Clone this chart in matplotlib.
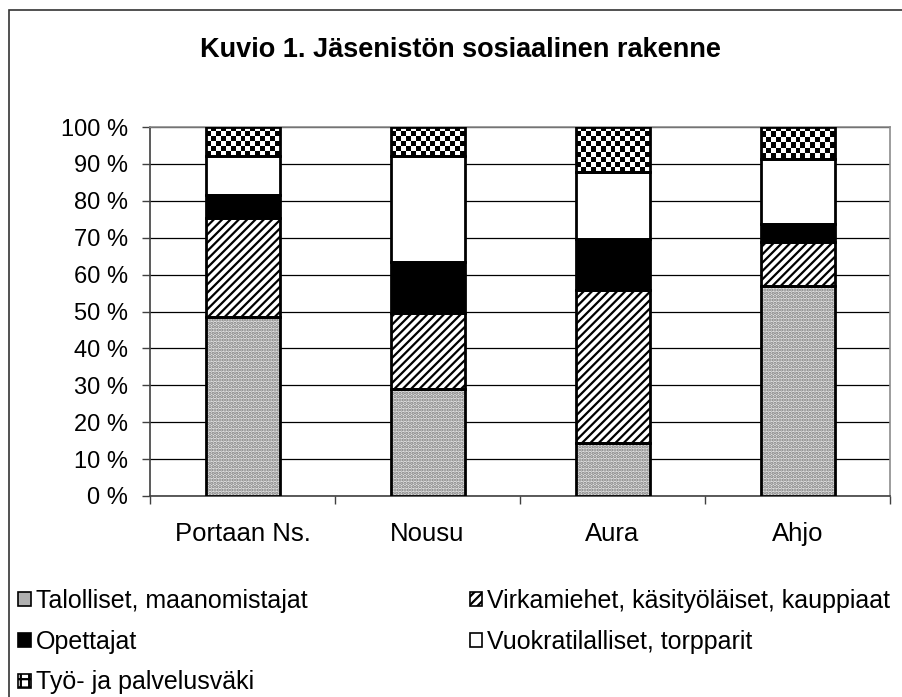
import matplotlib.pyplot as plt
import numpy as np
from matplotlib.patches import Patch, Rectangle

plt.rcParams['font.family'] = ['Liberation Sans', 'DejaVu Sans']

# data (percent of members)
places = ['Portaan Ns.', 'Nousu', 'Aura', 'Ahjo']
talolliset = [48.4, 28.9, 14.3, 56.9]
virkamiehet = [27.0, 20.7, 41.5, 12.0]
opettajat = [6.2, 13.8, 13.8, 4.7]
vuokratilalliset = [10.5, 28.7, 18.2, 17.6]
tyovaki = [7.9, 7.9, 12.2, 8.8]

series = [
    ('Talolliset, maanomistajat', talolliset),
    ('Virkamiehet, käsityöläiset, kauppiaat', virkamiehet),
    ('Opettajat', opettajat),
    ('Vuokratilalliset, torpparit', vuokratilalliset),
    ('Työ- ja palvelusväki', tyovaki),
]
# face, hatch, hatch colour
styles = [
    ('#e4e4e4', '.....', '#7a7a7a'),
    ('white', '////', 'black'),
    ('black', None, 'black'),
    ('white', None, 'white'),
    ('white', None, 'white'),  # checkerboard drawn separately
]

fig = plt.figure(figsize=(9.02, 6.97), dpi=100)
ax = fig.add_axes([150/902, 1 - 496/697, 740/902, 369/697])

x = np.arange(len(places))
width = 0.4
bottom = np.zeros(len(places))
checker = (np.indices((40, 40)).sum(axis=0) % 2).astype(float)
plt.rcParams['hatch.linewidth'] = 1.6

for (name, vals), (fc, hatch, hc) in zip(series, styles):
    vals = np.array(vals)
    bars = ax.bar(x, vals, width, bottom=bottom, color=fc, hatch=hatch,
                  edgecolor=hc, linewidth=0, zorder=3)
    if name.startswith('Työ'):
        for b in bars:
            x0, y0 = b.get_x(), b.get_y()
            w, h = b.get_width(), b.get_height()
            # ~5 px squares
            nx = int(round(w * 185 / 5))
            ny = int(round(h * 3.69 / 5))
            im = ax.imshow(checker[:ny, :nx], cmap='gray_r', interpolation='nearest',
                           extent=(x0, x0 + w, y0, y0 + h), aspect='auto', zorder=3.5)
            im.set_clip_path(b)
    ax.bar(x, vals, width, bottom=bottom, fill=False, edgecolor='black',
           linewidth=2.0, zorder=4)
    bottom += vals

ax.set_xlim(-0.5, 3.5)
ax.set_ylim(0, 100)
ax.set_yticks(np.arange(0, 101, 10))
ax.set_yticklabels([f'{v} %' for v in range(0, 101, 10)])
ax.yaxis.grid(True, color='black', linewidth=0.9, zorder=1)
ax.set_axisbelow(True)

ax.set_xticks(np.arange(-0.5, 4, 1))
ax.set_xticklabels([])
ax.set_xticks(x, minor=True)
ax.set_xticklabels(places, minor=True)
ax.tick_params(axis='x', which='minor', length=0, pad=19, labelsize=18.5)
ax.tick_params(axis='x', which='major', length=6, width=1, color='#404040')
ax.tick_params(axis='y', length=6, width=1, color='#404040', pad=10, labelsize=17)

for side in ['top', 'right']:
    ax.spines[side].set_color('#8c8c8c')
    ax.spines[side].set_linewidth(1.2)
for side in ['left', 'bottom']:
    ax.spines[side].set_color('#404040')
    ax.spines[side].set_linewidth(1.2)

fig.text(460/902, 1 - 57/697, 'Kuvio 1. Jäsenistön sosiaalinen rakenne',
         ha='center', va='baseline', fontsize=19.5, fontweight='bold')

# legend, filled column by column
handles = []
for (name, vals), (fc, hatch, hc) in zip(series, styles):
    if name.startswith('Työ'):
        handles.append(Patch(facecolor='white', edgecolor='black', hatch='++',
                             linewidth=1.2, label=name))
    elif hatch == '.....':
        handles.append(Patch(facecolor='#b0b0b0', edgecolor='black', linewidth=1.2,
                             label=name))
    else:
        handles.append(Patch(facecolor=fc, edgecolor='black', hatch=hatch,
                             linewidth=1.2, label=name))
order = [0, 2, 4, 1, 3]
leg = fig.legend([handles[i] for i in order], [handles[i].get_label() for i in order],
                 loc='upper left', bbox_to_anchor=(8/902, 1 - 579/697), ncol=2,
                 frameon=False, fontsize=18, handlelength=0.5, handleheight=0.5,
                 handletextpad=0.2, columnspacing=6.5, labelspacing=0.67,
                 borderaxespad=0)

# outer chart frame
fig.patches.append(Rectangle((9/902, -0.1), 1.2, 1 - 10/697 + 0.1,
                             transform=fig.transFigure, fill=False,
                             edgecolor='#333333', linewidth=1.2))

fig.savefig('out.png', dpi=100)
